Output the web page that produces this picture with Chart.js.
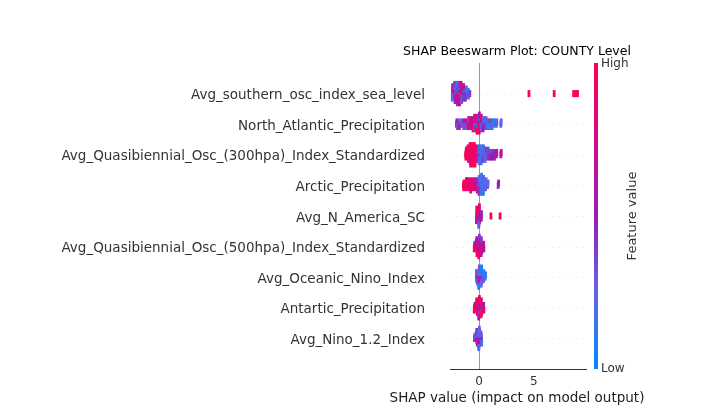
<!DOCTYPE html>
<html>
<head>
<meta charset="utf-8">
<script src="https://cdn.jsdelivr.net/npm/chart.js@4.4.1/dist/chart.umd.min.js"></script>
<style>
  html, body { margin: 0; padding: 0; background: #fff; }
</style>
</head>
<body>
<canvas id="chart" width="720" height="416"></canvas>
<script>
// feature names, top to bottom
const features = [
  "Avg_southern_osc_index_sea_level",
  "North_Atlantic_Precipitation",
  "Avg_Quasibiennial_Osc_(300hpa)_Index_Standardized",
  "Arctic_Precipitation",
  "Avg_N_America_SC",
  "Avg_Quasibiennial_Osc_(500hpa)_Index_Standardized",
  "Avg_Oceanic_Nino_Index",
  "Antartic_Precipitation",
  "Avg_Nino_1.2_Index"
];

const xTicks = [0, 5];

// SHAP values (x) and normalised feature values (colour) per feature
const shapSouthern = [-2.42,-2.40,-2.38,-2.36,-2.44,-2.41, -2.22,-2.18,-2.20,-2.24,-2.16,-2.21,-2.19,-2.23,
  -2.02,-1.98,-2.00,-2.04,-1.96,-2.01,-1.99,-2.03,-1.97, -1.82,-1.78,-1.80,-1.84,-1.76,-1.81,-1.79,-1.83,-1.77,
  -1.62,-1.58,-1.60,-1.64,-1.56,-1.61,-1.59,-1.63, -1.42,-1.38,-1.40,-1.36,-1.44,-1.41, -1.22,-1.18,-1.20,-1.16,-1.24,
  -1.02,-0.98,-0.96, -0.84, 4.55, 6.85, 8.62, 8.82, 8.98];
const featSouthern = [.5,.6,.3,.8,.2,.5, .6,.9,.1,.5,.7,.2,.6,.4,
  .7,.5,.9,.2,.6,.4,.8,.1,.5, .6,.8,.3,.5,.9,.2,.6,.4,.7,
  .7,.4,.9,.5,.2,.6,.3,.8, .5,.2,.6,.1,.4,.7, .3,.1,.5,.2,.4,
  .2,.1,.3, .4, 1, 1, 1, 1, .95];

const shapNAtl = [-2.06,-2.02,-1.98, -1.82,-1.78,-1.80, -1.62,-1.58, -1.42,-1.38,-1.40, -1.22,-1.18,-1.20,
  -1.02,-0.98,-1.00,-0.96, -0.82,-0.78,-0.80,-0.84, -0.62,-0.58,-0.60,-0.64,-0.56, -0.42,-0.38,-0.40,-0.44,-0.36,-0.41,
  -0.22,-0.18,-0.20,-0.24,-0.16,-0.21,-0.19, -0.02,0.02,0.00,-0.04,0.04,-0.01,0.01,0.03,
  0.18,0.22,0.20,0.16,0.24,0.21, 0.38,0.42,0.40,0.44,0.36, 0.58,0.62,0.60,0.64, 0.78,0.82,0.80,
  0.98,1.02,1.00, 1.18,1.22,1.20, 1.38,1.42, 1.58,1.62, 1.98,2.02];
const featNAtl = [.4,.6,.3, .5,.3,.6, .4,.2, .6,.5,.3, .5,.8,.2,
  .6,.4,.9,.3, .8,.3,.6,.9, .9,.2,.7,.5,1, .9,.6,.2,1,.4,.8,
  1,.8,.3,.9,.1,.7,.95, .95,.2,.8,.6,1,.1,.9,.5,
  .2,.9,.1,.6,.3,.8, .1,.3,.7,.2,.5, .2,.1,.4,.3, .1,.3,.2,
  .2,.4,.1, .3,.1,.2, .2,.1, .1,.3, .3,.2];

const shapQbo300 = [-1.22,-1.18,-1.20,-1.16, -1.02,-0.98,-1.00,-1.04,-0.96,-1.01,
  -0.82,-0.78,-0.80,-0.84,-0.76,-0.81,-0.79,-0.83,-0.77, -0.62,-0.58,-0.60,-0.64,-0.56,-0.61,-0.59,-0.63,-0.57,
  -0.42,-0.38,-0.40,-0.44,-0.36,-0.41,-0.39,-0.43,-0.37, -0.22,-0.18,-0.20,-0.24,-0.16,-0.21,
  -0.02,0.02,0.00,-0.04,0.04,0.01,-0.01, 0.18,0.22,0.20,0.16,0.24,0.21,0.19, 0.38,0.42,0.40,0.44,0.36,0.41,
  0.58,0.62,0.60,0.64,0.56, 0.78,0.82,0.80,0.84, 0.98,1.02,1.00, 1.18,1.22,1.20, 1.38,1.42,1.40, 1.58,1.62, 1.98,2.02];
const featQbo300 = [1,.9,.95,.85, 1,.9,.95,1,.85,.9,
  .95,1,.9,.85,1,.9,.95,1,.8, 1,.9,.8,.95,1,.85,.9,1,.95,
  .9,1,.85,.95,.8,1,.9,.95,1, .8,.9,.6,1,.7,.85,
  .2,.1,.5,.15,.3,.1,.2, .1,.2,.15,.3,.1,.25,.1, .15,.1,.3,.2,.4,.1,
  .2,.3,.1,.4,.25, .3,.2,.4,.35, .4,.35,.5, .45,.4,.5, .5,.45,.55, .5,.6, .65,.7];

const shapArctic = [-1.42,-1.38,-1.40, -1.22,-1.18,-1.20,-1.16, -1.02,-0.98,-1.00,-1.04, -0.82,-0.78,-0.80,-0.84,-0.76,
  -0.62,-0.58,-0.60,-0.64, -0.42,-0.38,-0.40,-0.44, -0.22,-0.18,-0.20,-0.24,-0.16,
  -0.02,0.02,0.00,-0.04,0.04,0.01,-0.01, 0.18,0.22,0.20,0.16,0.24,0.21,0.19,0.23,
  0.38,0.42,0.40,0.44,0.36,0.41,0.39, 0.58,0.62,0.60,0.64, 0.78,0.82, 1.74,1.78];
const featArctic = [1,.95,.9, 1,.9,.95,.85, .9,1,.85,.95, .95,.8,1,.9,.85,
  .8,.7,.9,.75, .7,.6,.8,.65, .6,.5,.7,.55,.65,
  .3,.5,.2,.4,.6,.25,.45, .1,.15,.2,.1,.3,.05,.2,.15,
  .1,.2,.15,.25,.1,.3,.05, .2,.15,.3,.25, .3,.2, .45,.5];

const shapNAmSC = [-0.22,-0.18,-0.20,-0.16,-0.24,-0.21, -0.02,0.02,0.00,-0.04,0.04,0.01,-0.01,0.03,-0.03,
  0.18,0.22,0.20, 1.08, 1.92];
const featNAmSC = [.8,.6,.9,.5,.7,.95, .7,.9,.5,.8,.6,1,.4,.85,.3,
  .5,.45,.6, 1, 1];

const shapQbo500 = [-0.42,-0.38,-0.44, -0.22,-0.18,-0.20,-0.24,-0.16,-0.21,-0.19,
  -0.02,0.02,0.00,-0.04,0.04,0.01,-0.01,0.03,-0.03, 0.18,0.22,0.20,0.16,0.24,0.21,0.19, 0.38,0.42,0.44];
const featQbo500 = [.7,.5,.9, .9,.7,1,.5,.8,.6,.95,
  .8,1,.6,.9,.5,.95,.7,.4,.85, .9,.6,1,.5,.8,.4,.7, .6,.8,.5];

const shapOni = [-0.22,-0.18,-0.20,-0.24,-0.16, -0.02,0.02,0.00,-0.04,0.04,0.01,-0.01,0.03,-0.03,
  0.18,0.22,0.20,0.16,0.24,0.21,0.19,0.23, 0.38,0.42,0.40,0.44, 0.56,0.60];
const featOni = [.2,.1,.5,.3,.15, .8,.1,.9,.2,.5,.15,.7,.3,.1,
  .1,.2,.6,.15,.3,.1,.25,.05, .2,.1,.3,.15, .2,.1];

const shapAnt = [-0.42,-0.38,-0.44, -0.22,-0.18,-0.20,-0.24,-0.16,-0.21,
  -0.02,0.02,0.00,-0.04,0.04,0.01,-0.01,0.03,-0.03, 0.18,0.22,0.20,0.16,0.24,0.21,0.19, 0.38,0.42,0.44];
const featAnt = [.9,.6,1, 1,.9,.5,.95,.8,1,
  .95,1,.9,.5,1,.85,.3,.95,.6, 1,.9,.6,.95,.4,.85,1, .8,.5,.9];

const shapNino12 = [-0.42,-0.38, -0.22,-0.18,-0.20,-0.24,-0.16,-0.21,
  -0.02,0.02,0.00,-0.04,0.04,0.01,-0.01,0.03,-0.03, 0.18,0.22,0.20,0.16,0.24];
const featNino12 = [.5,.3, .5,.2,.6,.3,.7,.4,
  .6,.3,.5,.2,.7,.1,.55,.25,.15, .4,.2,.5,.3,.15];

const shapRows = [shapSouthern, shapNAtl, shapQbo300, shapArctic, shapNAmSC, shapQbo500, shapOni, shapAnt, shapNino12];
const featRows = [featSouthern, featNAtl, featQbo300, featArctic, featNAmSC, featQbo500, featOni, featAnt, featNino12];

// shap red_blue colour map (approx.)
const cmapStops = [[0, [0, 139, 251]], [0.25, [100, 100, 232]], [0.5, [150, 30, 180]], [0.75, [212, 10, 140]], [1, [255, 0, 82]]];
function colorOf(t) {
  for (let i = 1; i < cmapStops.length; i++) {
    const [t1, c1] = cmapStops[i];
    const [t0, c0] = cmapStops[i - 1];
    if (t <= t1) {
      const f = (t - t0) / (t1 - t0);
      const c = c0.map((v, k) => Math.round(v + (c1[k] - v) * f));
      return "rgb(" + c.join(",") + ")";
    }
  }
  return "rgb(255,0,82)";
}

// beeswarm stacking like shap: bin the values, then pile points up/down in each bin
function swarm(xs, binW, step) {
  const bins = xs.map((v) => Math.round(v / binW));
  const order = xs.map((v, i) => i).sort((a, b) => bins[a] - bins[b] || a - b);
  const ys = new Array(xs.length).fill(0);
  let layer = 0;
  let last = null;
  order.forEach((i) => {
    if (bins[i] !== last) layer = 0;
    ys[i] = Math.ceil(layer / 2) * ((layer % 2) * 2 - 1) * step;
    layer++;
    last = bins[i];
  });
  return ys;
}

const n = features.length;
const datasets = shapRows.map((xs, r) => {
  const pos = n - 1 - r;
  const ys = swarm(xs, 0.2, 0.075);
  const cols = featRows[r].map(colorOf);
  return {
    label: features[r],
    data: xs.map((x, i) => ({ x: x, y: pos + ys[i] })),
    pointStyle: "line",
    pointRotation: 90,
    pointRadius: 3.5,
    pointBorderWidth: 2.8,
    pointBorderColor: cols,
    pointBackgroundColor: cols
  };
});

const extras = {
  id: "extras",
  beforeDatasetsDraw(chart) {
    const { ctx, chartArea: a, scales: { x, y } } = chart;
    ctx.save();
    ctx.strokeStyle = "#cccccc";
    ctx.lineWidth = 0.5;
    ctx.setLineDash([1, 5]);
    for (let i = 0; i < n; i++) {
      const py = Math.round(y.getPixelForValue(i)) + 0.5;
      ctx.beginPath();
      ctx.moveTo(a.left, py);
      ctx.lineTo(a.right, py);
      ctx.stroke();
    }
    ctx.setLineDash([]);
    ctx.strokeStyle = "#999999";
    ctx.lineWidth = 1;
    const px = Math.round(x.getPixelForValue(0)) + 0.5;
    ctx.beginPath();
    ctx.moveTo(px, a.top);
    ctx.lineTo(px, a.bottom);
    ctx.stroke();
    ctx.restore();
  },
  afterDraw(chart) {
    const { ctx, chartArea: a } = chart;
    ctx.save();
    // title
    ctx.fillStyle = "#000";
    ctx.font = "12.5px 'DejaVu Sans'";
    ctx.textAlign = "center";
    ctx.textBaseline = "middle";
    ctx.fillText("SHAP Beeswarm Plot: COUNTY Level", 517, 52);
    // x label
    ctx.fillStyle = "#222";
    ctx.font = "13.5px 'DejaVu Sans'";
    ctx.fillText("SHAP value (impact on model output)", 517, 398);
    // colour bar
    const g = ctx.createLinearGradient(0, a.bottom, 0, a.top);
    cmapStops.forEach(([t, c]) => g.addColorStop(t, "rgb(" + c.join(",") + ")"));
    ctx.fillStyle = g;
    ctx.fillRect(594, a.top, 4, a.bottom - a.top);
    ctx.fillStyle = "#333";
    ctx.font = "12px 'DejaVu Sans'";
    ctx.textAlign = "left";
    ctx.fillText("High", 601, a.top + 1);
    ctx.fillText("Low", 601, a.bottom);
    ctx.translate(633, (a.top + a.bottom) / 2);
    ctx.rotate(-Math.PI / 2);
    ctx.textAlign = "center";
    ctx.font = "13px 'DejaVu Sans'";
    ctx.fillText("Feature value", 0, 0);
    ctx.restore();
  }
};

new Chart(document.getElementById("chart"), {
  type: "scatter",
  data: { datasets: datasets },
  options: {
    responsive: false,
    animation: false,
    events: [],
    layout: { padding: { top: 63, right: 134, left: 0, bottom: 0 } },
    plugins: { legend: { display: false }, tooltip: { enabled: false } },
    scales: {
      x: {
        type: "linear",
        min: -2.65,
        max: 9.75,
        grid: { display: false, drawTicks: false },
        border: { display: true, color: "#333", width: 1 },
        ticks: { font: { family: "DejaVu Sans", size: 12 }, color: "#333", padding: 6 },
        afterBuildTicks(s) { s.ticks = xTicks.map((v) => ({ value: v })); },
        afterFit(s) { s.height = 47; }
      },
      y: {
        type: "linear",
        min: -1,
        max: n,
        grid: { display: false, drawTicks: false },
        border: { display: false },
        ticks: {
          font: { family: "DejaVu Sans", size: 13.5 },
          color: "#333",
          padding: 25,
          labelOffset: 2,
          autoSkip: false,
          callback: (v) => features[n - 1 - v]
        },
        afterBuildTicks(s) { s.ticks = features.map((f, i) => ({ value: i })); },
        afterFit(s) { s.width = 450; }
      }
    }
  },
  plugins: [extras]
});
</script>
</body>
</html>
